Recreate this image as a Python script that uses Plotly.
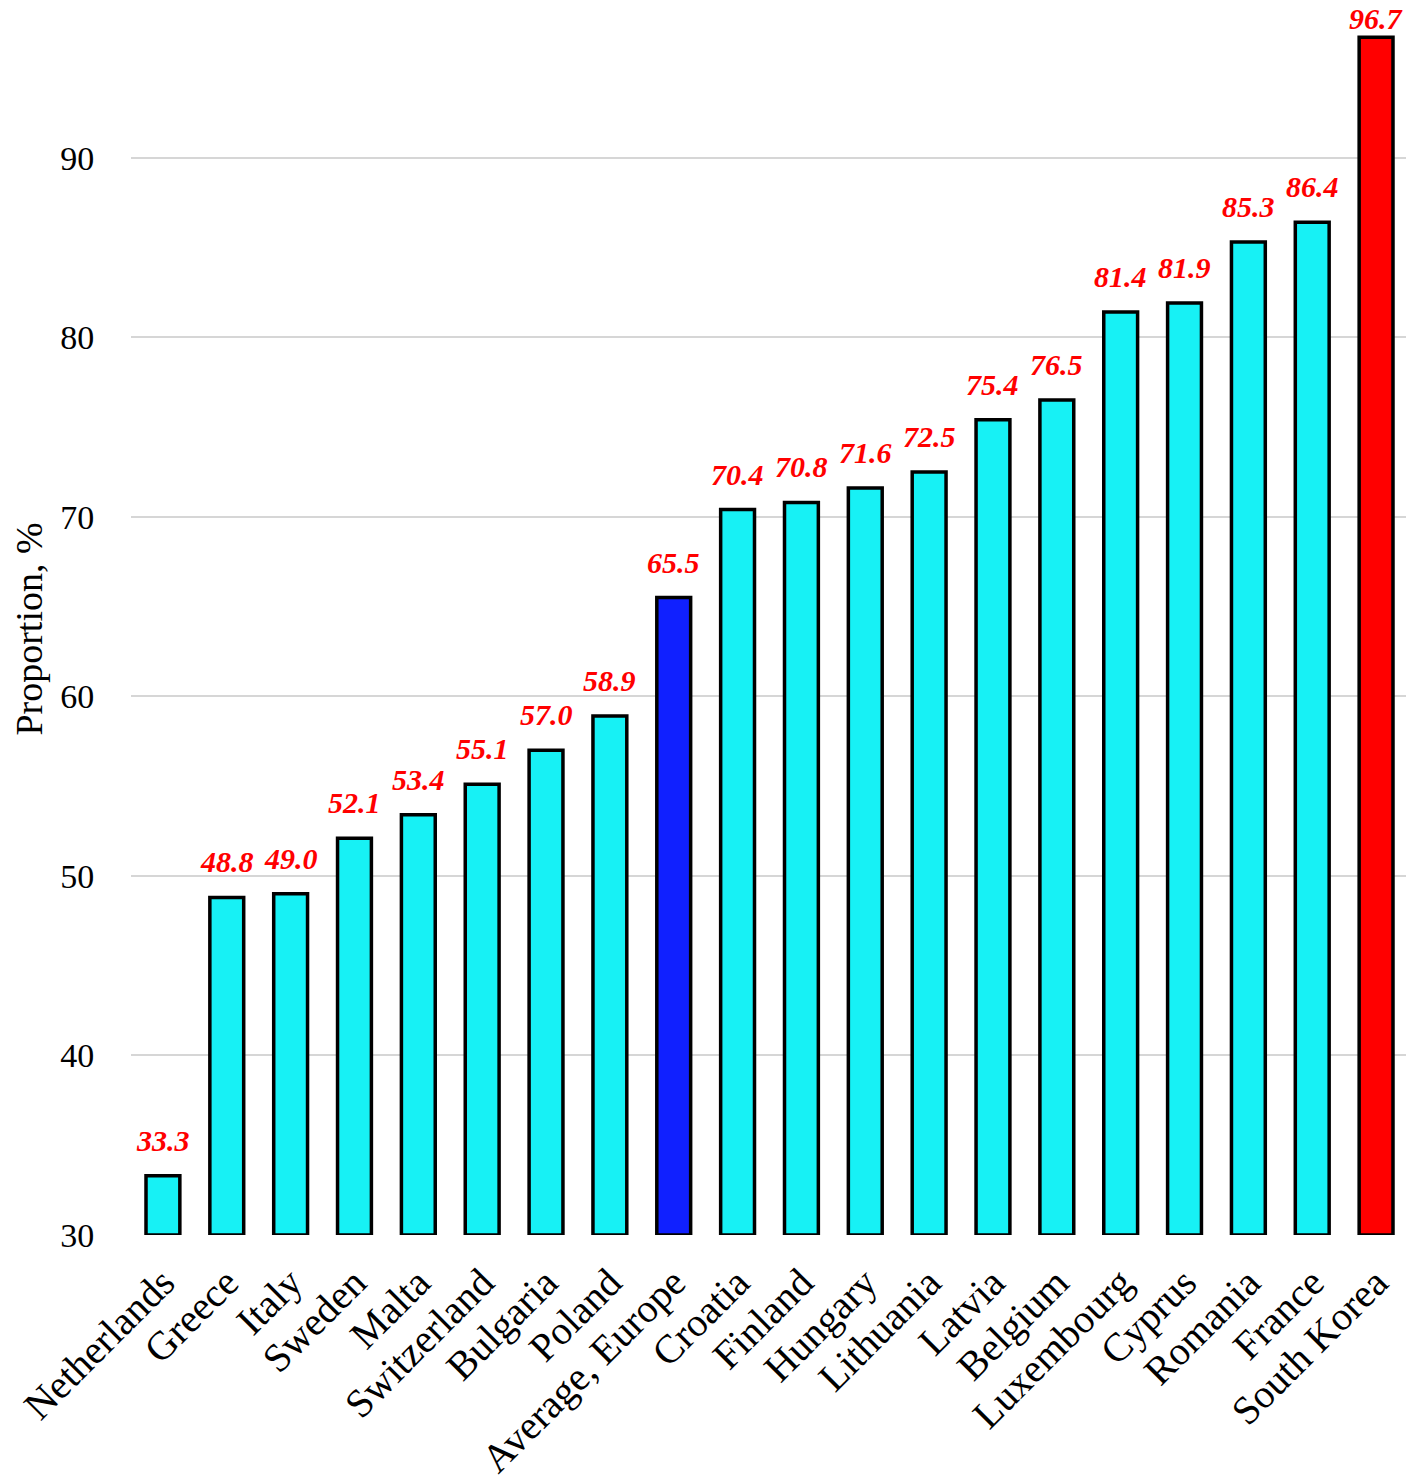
import plotly.graph_objects as go

countries = ["Netherlands", "Greece", "Italy", "Sweden", "Malta", "Switzerland", "Bulgaria",
             "Poland", "Average, Europe", "Croatia", "Finland", "Hungary", "Lithuania", "Latvia",
             "Belgium", "Luxembourg", "Cyprus", "Romania", "France", "South Korea"]
values = [33.3, 48.8, 49.0, 52.1, 53.4, 55.1, 57.0, 58.9, 65.5, 70.4, 70.8, 71.6, 72.5,
          75.4, 76.5, 81.4, 81.9, 85.3, 86.4, 96.7]
bar_colors = ["#17F1F5"] * 8 + ["#1020FF"] + ["#17F1F5"] * 10 + ["#FF0000"]
y_ticks = [30, 40, 50, 60, 70, 80, 90]
BASE = 30
Y_TOP = 97.5

FONT = "Liberation Serif, Times New Roman, serif"

fig = go.Figure()
fig.add_trace(go.Bar(
    x=countries,
    y=[v - BASE for v in values],
    base=BASE,
    width=0.53,
    marker=dict(color=bar_colors, line=dict(color="black", width=3.5)),
    hoverinfo="skip",
))

for c, v in zip(countries, values):
    # labels near the top edge are tucked closer to their bar
    shift = 17 if v < Y_TOP - 2 else 0
    fig.add_annotation(
        x=c, y=v, text=f"<b><i>{v:.1f}</i></b>", showarrow=False,
        yanchor="bottom", yshift=shift,
        font=dict(family=FONT, size=30, color="#FF0000"),
    )

fig.update_layout(
    width=1406, height=1474,
    margin=dict(l=123, r=6, t=15, b=247),
    paper_bgcolor="white", plot_bgcolor="white",
    showlegend=False,
    font=dict(family=FONT, size=34, color="black"),
    xaxis=dict(
        tickangle=-45, ticks="outside", ticklen=7, tickcolor="rgba(0,0,0,0)",
        showgrid=False, showline=False, zeroline=False, automargin=False,
        tickfont=dict(family=FONT, size=40, color="black"),
    ),
    yaxis=dict(
        range=[BASE, Y_TOP], tickvals=y_ticks, ticktext=[str(t) for t in y_ticks],
        ticks="outside", ticklen=29, tickcolor="rgba(0,0,0,0)",
        showgrid=True, gridcolor="#D6D6D6", gridwidth=2,
        showline=False, zeroline=False, automargin=False,
        tickfont=dict(family=FONT, size=34, color="black"),
        title=dict(text="Proportion, %", standoff=11,
                   font=dict(family=FONT, size=38, color="black")),
    ),
)

fig.write_html("out.html")
